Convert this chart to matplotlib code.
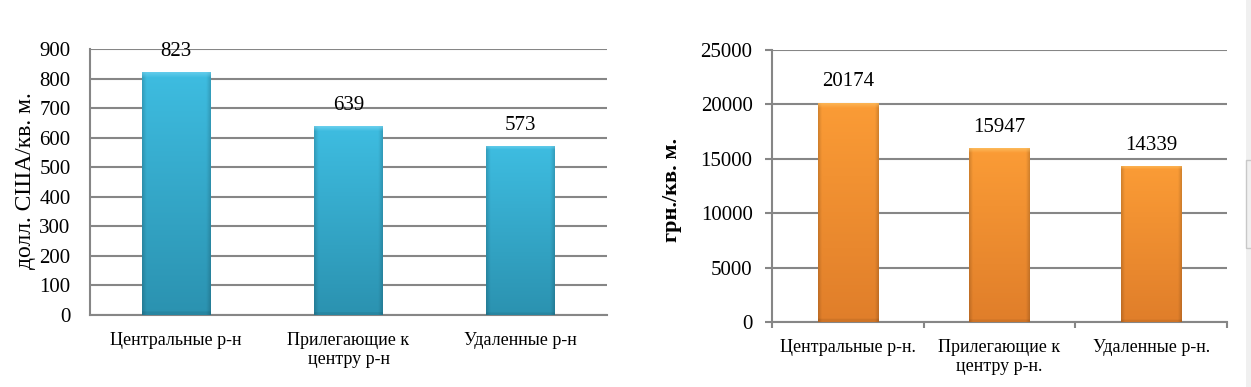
import numpy as np
import matplotlib
matplotlib.use("Agg")
import matplotlib.pyplot as plt
from matplotlib.patches import Rectangle
from matplotlib.colors import to_rgb

plt.rcParams['font.family'] = ['Liberation Serif', 'DejaVu Serif']

# ---- data ----
cats_usd = ["Центральные р-н", "Прилегающие к\nцентру р-н", "Удаленные р-н"]
vals_usd = [823, 639, 573]
yticks_usd = [0, 100, 200, 300, 400, 500, 600, 700, 800, 900]

cats_uah = ["Центральные р-н.", "Прилегающие к\nцентру р-н.", "Удаленные р-н."]
vals_uah = [20174, 15947, 14339]
yticks_uah = [0, 5000, 10000, 15000, 20000, 25000]

ylabel_usd = "долл. США/кв. м."
ylabel_uah = "грн./кв. м."

W, H = 1251, 387
fig = plt.figure(figsize=(W / 100, H / 100), dpi=100)

GRID = "#868686"


def gradient_bars(ax, bars, top_col, bot_col, bevel_col):
    top = np.array(to_rgb(top_col))
    bot = np.array(to_rgb(bot_col))
    bev = np.array(to_rgb(bevel_col))
    for b in bars:
        x0, y0 = b.get_x(), b.get_y()
        w, h = b.get_width(), b.get_height()
        ny, nx = 200, 60
        t = np.linspace(0, 1, ny)[:, None, None]  # 0 top -> 1 bottom
        col = top * (1 - t) + bot * t
        img = np.repeat(col, nx, axis=1)
        xs = np.linspace(0, 1, nx)
        edge = np.clip(1 - np.minimum(xs, 1 - xs) / 0.06, 0, 1) * 0.15
        img = img * (1 - edge[None, :, None])
        bev_rows = 5
        for r in range(bev_rows):
            a = 0.7 * (1 - r / bev_rows)
            img[r] = img[r] * (1 - a) + bev * a
        img[-3:] = img[-3:] * 0.92
        im = ax.imshow(img, extent=(x0, x0 + w, y0, y0 + h), origin="upper",
                       aspect="auto", zorder=3, interpolation="bilinear")
        im.set_clip_path(b)
        b.set_facecolor("none")
    ax.set_aspect("auto")


def setup(ax, cats, vals, yticks, ylabel, top_col, bot_col, bevel_col,
          ytick_len, xticks_bound, label_bold, label_size, lab_xy):
    x = np.arange(len(cats))
    bars = ax.bar(x, vals, width=0.4, color=top_col, zorder=3, linewidth=0)
    gradient_bars(ax, bars, top_col, bot_col, bevel_col)
    ax.set_xlim(-0.5, len(cats) - 0.5)
    ax.set_ylim(yticks[0], yticks[-1])
    ax.set_yticks(yticks)
    ax.set_yticklabels([str(v) for v in yticks], fontsize=15)
    ax.yaxis.grid(True, color=GRID, linewidth=1.5, zorder=0)
    ax.set_axisbelow(True)
    for s in ["top", "right"]:
        ax.spines[s].set_visible(False)
    for s in ["left", "bottom"]:
        ax.spines[s].set_color(GRID)
        ax.spines[s].set_linewidth(1.5)
    ax.tick_params(axis="y", length=ytick_len, width=1.5, color=GRID,
                   pad=14 if ytick_len == 0 else 9)
    ax.set_xticks(x)
    ax.set_xticklabels(cats, fontsize=13, linespacing=1.2)
    ax.tick_params(axis="x", length=0, pad=12)
    if xticks_bound:
        ax.set_xticks(np.arange(len(cats) + 1) - 0.5, minor=True)
        ax.tick_params(axis="x", which="minor", length=4, width=1.5, color=GRID)
    for xi, v in zip(x, vals):
        ax.annotate(str(v), (xi, v), xytext=(0, 8), textcoords="offset points",
                    ha="center", va="bottom", fontsize=15)
    ax.set_ylabel(ylabel, fontsize=label_size,
                  fontweight="bold" if label_bold else "normal")
    ax.yaxis.set_label_coords(*lab_xy)
    ax.patch.set_alpha(0)


ax1 = fig.add_axes([90 / W, 1 - 315 / H, 517 / W, 266 / H])
setup(ax1, cats_usd, vals_usd, yticks_usd, ylabel_usd,
      "#3EBDE1", "#2B92B0", "#7AD6F2", 0, False, False, 17, (-0.105, 0.505))

ax2 = fig.add_axes([772 / W, 1 - 322 / H, 455 / W, 272 / H])
setup(ax2, cats_uah, vals_uah, yticks_uah, ylabel_uah,
      "#FB9C36", "#E07E2A", "#FDC468", 5, True, True, 16, (-0.198, 0.485))

# faint window element at the right edge
fig.patches.append(Rectangle((1246 / W, 0), 5 / W, 1, transform=fig.transFigure,
                             facecolor="#f0f0f0", edgecolor="none", zorder=0))
fig.patches.append(Rectangle((1246 / W, 1 - 248 / H), 8 / W, 88 / H,
                             transform=fig.transFigure, facecolor="none",
                             edgecolor="#c8c8c8", linewidth=1, zorder=1))

fig.savefig("out.png", dpi=100)
